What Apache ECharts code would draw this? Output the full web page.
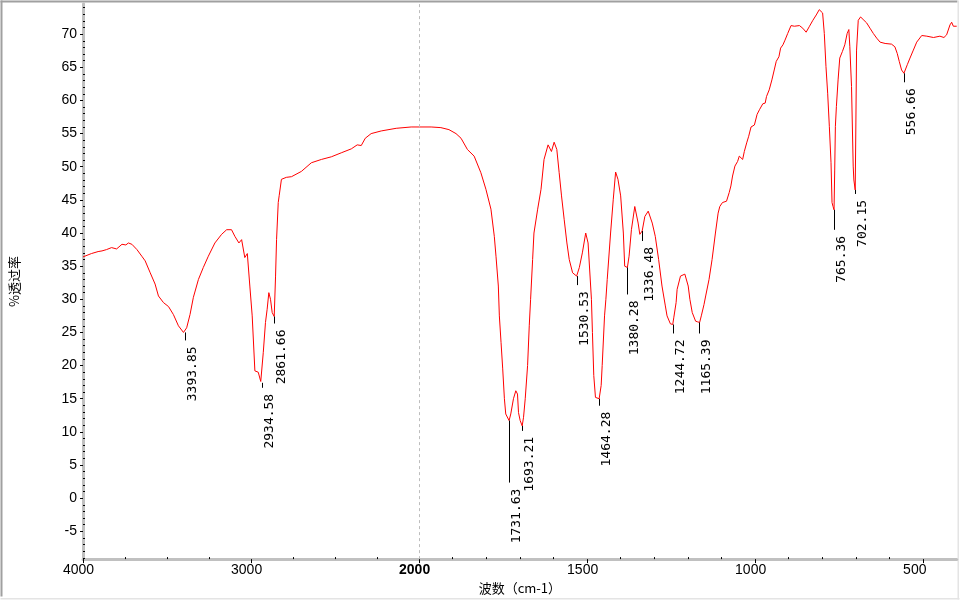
<!DOCTYPE html>
<html><head><meta charset="utf-8">
<script src="https://cdn.jsdelivr.net/npm/echarts@6/dist/echarts.min.js"></script>
<style>html,body{margin:0;padding:0;background:#fff}#c{width:960px;height:600px}</style>
</head><body><div id="c"></div>
<script>
// ---- data ----
const wavenumbers = [4000,3950,3910,3887,3860,3830,3800,3768,3745,3730,3709,3679,3650,3630,3600,3571,3551,3521,3491,3462,3432,3402,3394,3383,3363,3343,3313,3284,3254,3215,3175,3145,3116,3096,3072,3056,3037,3022,3007,2993,2977,2957,2942,2935,2927,2914,2904,2894,2884,2874,2862,2854,2848,2838,2832,2819,2790,2759,2700,2641,2581,2522,2463,2403,2368,2344,2320,2285,2225,2136,2047,2000,1964,1935,1911,1890,1875,1856,1836,1816,1801,1786,1776,1771,1764,1761,1756,1751,1746,1742,1732,1727,1719,1712,1707,1704,1699,1693,1689,1684,1677,1672,1668,1662,1658,1647,1637,1628,1616,1606,1598,1590,1583,1576,1568,1560,1553,1543,1531,1523,1514,1504,1497,1492,1487,1484,1480,1475,1470,1464,1458,1455,1448,1444,1440,1430,1422,1415,1408,1400,1392,1388,1380,1375,1368,1358,1353,1348,1343,1336,1328,1318,1306,1297,1287,1277,1267,1262,1252,1245,1242,1235,1232,1222,1209,1199,1194,1187,1177,1171,1165,1160,1152,1147,1137,1128,1118,1110,1105,1097,1085,1077,1072,1067,1060,1052,1047,1042,1037,1032,1025,1019,1012,1002,997,994,987,977,970,966,958,950,943,937,929,924,917,911,903,893,883,868,858,848,838,828,818,809,804,799,794,789,784,779,774,771,768,765,763,761,758,753,748,740,733,726,721,718,713,708,706,702,700,698,693,686,676,668,658,648,638,628,613,594,584,577,571,564,557,554,547,539,529,519,504,489,469,450,438,430,420,415,410,405,400];
const transmittance = [36.4,36.9,37.2,37.3,37.5,37.8,37.6,38.3,38.2,38.5,38.3,37.5,36.5,35.8,34.0,32.3,30.5,29.5,28.9,27.7,26.0,25.0,24.9,25.7,27.7,30.3,33.0,34.8,36.5,38.5,39.8,40.5,40.5,39.5,38.5,39.0,36.3,36.9,32.0,27.5,19.2,19.0,17.6,17.4,22.0,26.5,28.5,31.0,30.0,28.0,27.4,33.5,39.0,44.6,45.7,48.1,48.4,48.5,49.3,50.6,51.1,51.5,52.1,52.7,53.3,53.2,54.3,55.0,55.4,55.8,56.0,56.0,56.0,55.9,55.6,55.0,54.3,52.6,51.6,49.1,46.6,43.6,39.5,36.5,32.0,27.5,23.5,19.5,15.0,12.7,11.7,12.7,15.0,16.2,15.7,12.9,11.7,10.9,12.2,15.0,20.0,26.0,30.0,36.0,40.0,43.6,46.6,51.1,53.3,52.3,53.7,52.6,49.1,45.6,42.0,38.5,36.0,34.0,33.5,34.8,37.0,40.0,38.5,38.8,30.0,25.0,18.5,15.2,15.1,15.0,17.0,20.0,27.5,30.0,33.0,40.0,45.1,49.2,48.1,45.6,40.0,35.0,34.8,36.5,40.5,44.0,44.0,41.5,39.8,40.3,42.5,43.3,41.5,39.5,36.0,32.0,29.0,27.5,26.3,26.2,27.2,29.5,31.5,33.5,33.8,32.0,30.0,28.0,26.7,26.6,26.5,27.5,29.2,30.5,33.0,36.0,40.0,43.0,44.0,44.6,44.8,46.1,47.1,48.6,50.1,50.8,51.6,51.3,51.1,52.3,53.6,54.6,56.0,56.3,56.6,57.9,58.6,59.5,59.6,60.6,61.6,63.1,64.6,65.9,66.6,67.9,68.4,69.1,70.1,71.3,71.2,71.3,70.9,70.3,71.2,72.1,72.9,73.7,73.9,73.2,70.1,65.1,61.1,56.1,50.6,44.6,44.0,43.5,49.5,56.1,59.1,63.1,66.4,67.4,68.4,70.1,70.7,68.1,62.1,50.1,48.0,46.5,56.6,67.6,72.1,72.6,72.1,71.7,70.9,70.1,69.4,68.8,68.6,68.5,68.1,67.1,65.9,64.6,64.1,64.4,65.4,66.4,67.6,68.8,69.8,69.7,69.5,69.7,69.5,69.9,71.4,71.8,71.2,70.9,71.2];
const peakWavenumbers = [3393.85,2934.58,2861.66,1731.63,1693.21,1530.53,1464.28,1380.28,1336.48,1244.72,1165.39,765.36,702.15,556.66];
const peakTransmittance = [25.0,17.4,27.4,11.7,10.9,33.5,15.0,34.8,40.3,26.2,26.5,43.5,46.5,64.1];
const xTickLabels = [4000,3000,2000,1500,1000,500];
const xMinorTicks = [3750,3500,3250,2750,2500,2250,1900,1800,1700,1600,1400,1300,1200,1100,900,800,700,600];
const yTickLabels = [-5,0,5,10,15,20,25,30,35,40,45,50,55,60,65,70];
const yMinorTicks = [-9,-8,-7,-6,-4,-3,-2,-1,1,2,3,4,6,7,8,9,11,12,13,14,16,17,18,19,21,22,23,24,26,27,28,29,31,32,33,34,36,37,38,39,41,42,43,44,46,47,48,49,51,52,53,54,56,57,58,59,61,62,63,64,66,67,68,69,71,72,73,74];
const xTitle = '波数（cm-1）';
const yTitle = '%透过率';

// ---- layout (not data) ----
const leaderLen = [8,5,7,62,5,9,7,27,10,9,11,20,4,9];

// split wavenumber axis: 4000-2000 compressed x2, 2000-400 linear
const toT = w => w >= 2000 ? (4000 - w) / 2 : 1000 + (2000 - w);
const fromT = t => t <= 1000 ? 4000 - 2 * t : 2000 - (t - 1000);

const lineData = wavenumbers.map((w, i) => [toT(w), transmittance[i]]);
const peakData = peakWavenumbers.map((w, i) => [toT(w), peakTransmittance[i]]);

const chart = echarts.init(document.getElementById('c'), null, {renderer: 'canvas'});
const axisFont = 'Liberation Sans';
chart.setOption({
  animation: false,
  backgroundColor: '#fff',
  grid: {left: 81, right: 3.3, top: 3.7, bottom: 39.5, containLabel: false},
  xAxis: [{
    type: 'value', min: 0, max: 2600,
    name: xTitle, nameLocation: 'middle', nameGap: 20,
    nameTextStyle: {fontFamily: 'Noto Sans CJK SC', fontSize: 13, color: '#000'},
    axisLine: {show: true, onZero: false, lineStyle: {color: '#c0c0c0', width: 3}},
    axisTick: {show: true, customValues: xTickLabels.map(toT), length: 4, lineStyle: {color: '#000', width: 1}},
    axisLabel: {
      customValues: xTickLabels.map(toT), margin: 4, align: 'left', padding: [0, 0, 0, -20],
      fontFamily: axisFont, fontSize: 14, color: '#000',
      formatter: v => { const w = Math.round(fromT(v)); return w === 2000 ? '{b|' + w + '}' : String(w); },
      rich: {b: {fontFamily: axisFont, fontSize: 14, fontWeight: 'bold', color: '#000'}}
    },
    splitLine: {show: false}
  }, {
    type: 'value', min: 0, max: 2600, position: 'bottom',
    axisLine: {show: false, onZero: false},
    axisTick: {show: true, inside: true, customValues: xMinorTicks.map(toT), length: 2, lineStyle: {color: '#000', width: 1}},
    axisLabel: {show: false}, splitLine: {show: false}
  }],
  yAxis: [{
    type: 'value', min: -9.2, max: 74.6, position: 'left',
    name: yTitle, nameLocation: 'middle', nameGap: 62, nameRotate: 90,
    nameTextStyle: {fontFamily: 'Noto Sans CJK SC', fontSize: 13, color: '#000'},
    axisLine: {show: true, onZero: false, lineStyle: {color: '#c0c0c0', width: 3}},
    axisTick: {show: true, customValues: yTickLabels, length: 3, lineStyle: {color: '#000'}},
    axisLabel: {customValues: yTickLabels, margin: 6, fontFamily: axisFont, fontSize: 14, color: '#000'},
    splitLine: {show: false}
  }, {
    type: 'value', min: -9.2, max: 74.6, position: 'left',
    axisLine: {show: false, onZero: false},
    axisTick: {show: true, inside: true, customValues: yMinorTicks, length: 2, lineStyle: {color: '#000'}},
    axisLabel: {show: false}, splitLine: {show: false}
  }],
  series: [{
    type: 'line', data: lineData, xAxisIndex: 0, yAxisIndex: 0,
    showSymbol: false, symbol: 'none', smooth: false,
    lineStyle: {color: '#ff0000', width: 1},
    z: 3,
    markLine: {
      silent: true, symbol: 'none', label: {show: false},
      lineStyle: {color: '#bdbdbd', type: [3, 3], width: 1},
      data: [{xAxis: toT(2000)}]
    }
  }, {
    type: 'custom', data: peakData, xAxisIndex: 0, yAxisIndex: 0, clip: false, z: 4,
    renderItem: (params, api) => {
      const i = params.dataIndex;
      const p = api.coord([api.value(0), api.value(1)]);
      const x = Math.round(p[0]) + 0.5;
      const L = leaderLen[i];
      return {type: 'group', children: [
        {type: 'line', shape: {x1: x, y1: p[1], x2: x, y2: p[1] + L}, style: {stroke: '#000', lineWidth: 1}},
        {type: 'text', x: x + 1, y: p[1] + L + 6, rotation: Math.PI / 2,
         style: {text: peakWavenumbers[i].toFixed(2), font: '13px "DejaVu Sans Mono"', fill: '#000', align: 'right', verticalAlign: 'top'}}
      ]};
    }
  }],
  graphic: [
    {type: 'rect', shape: {x: 0.5, y: 0.5, width: 2, height: 596}, style: {fill: '#a0a0a0'}, silent: true},
    {type: 'rect', shape: {x: 0.5, y: 0.5, width: 957, height: 2}, style: {fill: '#a0a0a0'}, silent: true},
    {type: 'rect', shape: {x: 957.5, y: 0.5, width: 1.5, height: 599}, style: {fill: '#e4e4e4'}, silent: true},
    {type: 'rect', shape: {x: 0.5, y: 598, width: 959, height: 1.5}, style: {fill: '#e4e4e4'}, silent: true}
  ]
});
</script>
</body></html>
